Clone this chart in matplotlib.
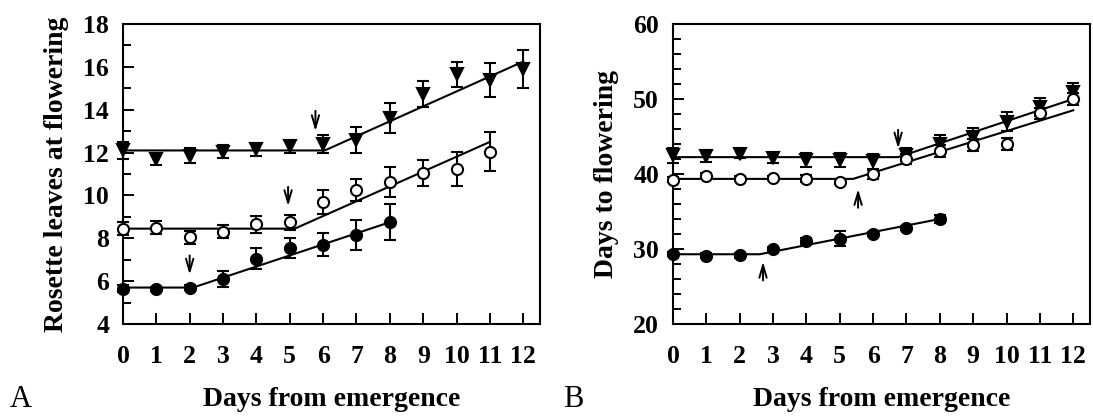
import numpy as np
import matplotlib
matplotlib.use('Agg')
import matplotlib.pyplot as plt
from matplotlib.ticker import MultipleLocator

plt.rcParams['font.family'] = ['Liberation Serif', 'DejaVu Serif']
plt.rcParams['font.weight'] = 'bold'

# ---- data ----
days = np.arange(13)

# panel A: rosette leaves at flowering
leaves_tri = [12.1, 11.7, 11.85, 12.05, 12.15, 12.3, 12.4, 12.6, 13.6, 14.75, 15.65, 15.4, 15.9]
leaves_tri_err = [0.4, 0.3, 0.35, 0.3, 0.3, 0.3, 0.4, 0.6, 0.7, 0.6, 0.6, 0.8, 0.9]
leaves_open = [8.45, 8.5, 8.05, 8.3, 8.65, 8.75, 9.7, 10.25, 10.65, 11.05, 11.25, 12.05]
leaves_open_err = [0.3, 0.3, 0.3, 0.3, 0.4, 0.35, 0.55, 0.5, 0.7, 0.6, 0.8, 0.9]
leaves_fill = [5.65, 5.62, 5.7, 6.1, 7.05, 7.55, 7.7, 8.15, 8.75]
leaves_fill_err = [0.15, 0.1, 0.1, 0.38, 0.5, 0.45, 0.55, 0.7, 0.85]

# broken-stick fits (x, y at start, break, end)
fitA_tri_x = [0, 6.05, 12]
fitA_tri_y = [12.1, 12.1, 16.25]
fitA_open_x = [0, 5.15, 11]
fitA_open_y = [8.45, 8.45, 12.5]
fitA_fill_x = [0, 2.1, 8]
fitA_fill_y = [5.7, 5.7, 8.75]

# arrows (x, tail y, head y)
arrA_x = [5.77, 4.95, 2.0]
arrA_tail = [13.95, 10.4, 7.2]
arrA_head = [13.0, 9.5, 6.3]

# panel B: days to flowering
flow_tri = [42.5, 42.4, 42.7, 42.1, 41.9, 41.9, 41.7, 42.6, 44.0, 45.0, 47.0, 49.0, 51.0]
flow_tri_err = [1.0, 0.85, 0.6, 0.6, 0.9, 0.9, 1.0, 0.9, 1.2, 1.2, 1.3, 1.2, 1.2]
flow_open = [39.25, 39.8, 39.4, 39.5, 39.4, 39.0, 40.0, 42.0, 43.1, 43.9, 44.0, 48.1, 50.0]
flow_open_err = [0.3, 0.3, 0.3, 0.3, 0.5, 0.3, 0.6, 0.7, 0.8, 0.8, 0.8, 0.7, 0.8]
flow_fill = [29.3, 29.1, 29.15, 30.0, 31.0, 31.35, 32.0, 32.8, 34.0]
flow_fill_err = [0.3, 0.3, 0.3, 0.3, 0.4, 1.0, 0.3, 0.3, 0.5]

fitB_tri_x = [0, 6.75, 12]
fitB_tri_y = [42.25, 42.25, 50.0]
fitB_open_x = [0, 5.4, 12]
fitB_open_y = [39.35, 39.35, 48.5]
fitB_fill_x = [0, 2.6, 8]
fitB_fill_y = [29.3, 29.3, 34.0]

arrB_x = [6.75, 5.55, 2.7]
arrB_tail = [45.9, 35.5, 25.8]
arrB_head = [43.4, 38.0, 28.3]

# ---- drawing ----
fig = plt.figure(figsize=(10.93, 4.16), dpi=100)
axA = fig.add_axes([0.1125, 0.2212, 0.3815, 0.721])
axB = fig.add_axes([0.6157, 0.2212, 0.3815, 0.721])

def draw_series(ax, y, err, marker, face, ms):
    x = days[:len(y)]
    ax.errorbar(x, y, yerr=err, fmt=marker, color='k', mfc=face, mec='k',
                ms=ms, mew=1.5, elinewidth=1.5, capsize=4, capthick=1.5,
                clip_on=False, zorder=3)

def draw_arrows(ax, xs, tails, heads):
    for ax_x, t, h in zip(xs, tails, heads):
        ax.annotate('', xy=(ax_x, h), xytext=(ax_x, t),
                    arrowprops=dict(arrowstyle='->,head_length=0.75,head_width=0.22',
                                    lw=1.4, color='k', mutation_scale=12,
                                    shrinkA=0, shrinkB=0))

def style_axis(ax):
    for s in ax.spines.values():
        s.set_linewidth(1.5)
    ax.set_xlim(0, 12.5)
    ax.set_xticks(days)
    ax.tick_params(axis='both', which='both', direction='in', top=False, right=False,
                   width=1.4, labelsize=18.5)
    ax.tick_params(axis='both', which='major', length=8)
    ax.tick_params(axis='both', which='minor', length=5.5)
    ax.tick_params(axis='x', pad=15)
    ax.tick_params(axis='y', pad=10)
    ax.set_xlabel('Days from emergence', fontsize=20, fontweight='bold')
    ax.xaxis.set_label_coords(0.5, -0.21)

# panel A
draw_series(axA, leaves_tri, leaves_tri_err, 'v', 'k', 9)
draw_series(axA, leaves_open, leaves_open_err, 'o', 'white', 8)
draw_series(axA, leaves_fill, leaves_fill_err, 'o', 'k', 8)
for fx, fy in [(fitA_tri_x, fitA_tri_y), (fitA_open_x, fitA_open_y), (fitA_fill_x, fitA_fill_y)]:
    axA.plot(fx, fy, color='k', lw=1.5, zorder=2)
draw_arrows(axA, arrA_x, arrA_tail, arrA_head)
axA.set_ylim(4, 18)
axA.yaxis.set_major_locator(MultipleLocator(2))
axA.yaxis.set_minor_locator(MultipleLocator(1))
style_axis(axA)
axA.set_ylabel('Rosette leaves at flowering', fontsize=20, fontweight='bold')
axA.yaxis.set_label_coords(-0.13, 0.5)

# panel B
draw_series(axB, flow_tri, flow_tri_err, 'v', 'k', 9)
draw_series(axB, flow_open, flow_open_err, 'o', 'white', 8)
draw_series(axB, flow_fill, flow_fill_err, 'o', 'k', 8)
for fx, fy in [(fitB_tri_x, fitB_tri_y), (fitB_open_x, fitB_open_y), (fitB_fill_x, fitB_fill_y)]:
    axB.plot(fx, fy, color='k', lw=1.5, zorder=2)
draw_arrows(axB, arrB_x, arrB_tail, arrB_head)
axB.set_ylim(20, 60)
axB.yaxis.set_major_locator(MultipleLocator(10))
axB.yaxis.set_minor_locator(MultipleLocator(2))
style_axis(axB)
axB.set_ylabel('Days to flowering', fontsize=20, fontweight='bold')
axB.yaxis.set_label_coords(-0.13, 0.5)

fig.text(10 / 1093, 2 / 416, 'A', fontsize=22, fontweight='normal', ha='left', va='bottom')
fig.text(563 / 1093, 2 / 416, 'B', fontsize=22, fontweight='normal', ha='left', va='bottom')

fig.savefig('out.png', dpi=100)
